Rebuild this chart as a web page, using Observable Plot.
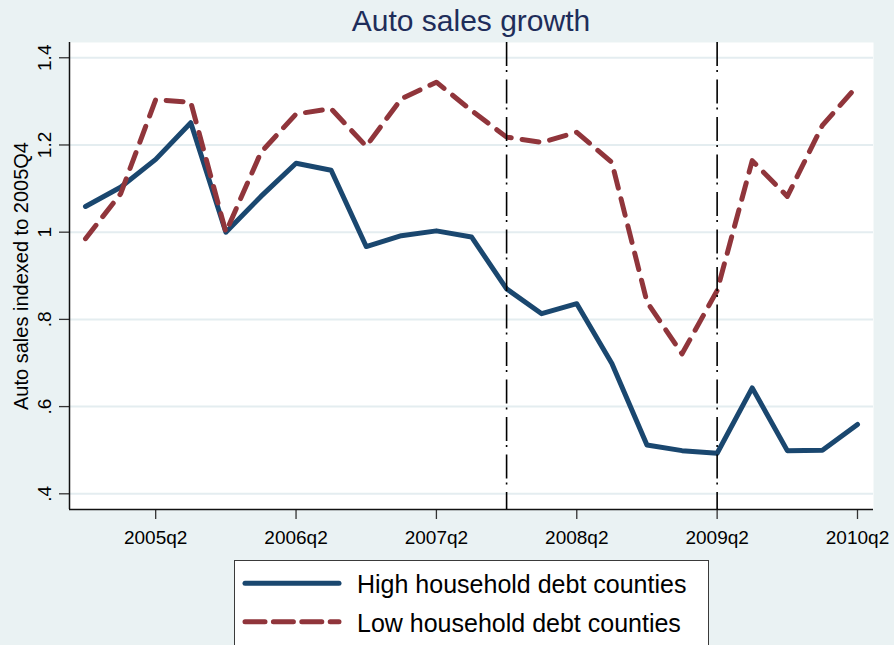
<!DOCTYPE html>
<html><head><meta charset="utf-8">
<script src="https://cdn.jsdelivr.net/npm/d3@7"></script>
<script src="https://cdn.jsdelivr.net/npm/@observablehq/plot@0.6"></script>
<style>
body{margin:0;background:#EAF2F3;font-family:"Liberation Sans",Arial,sans-serif;}
#wrap{position:relative;width:894px;height:645px;overflow:hidden;background:#EAF2F3;}
#title{position:absolute;left:69px;width:804px;top:6px;text-align:center;font-size:30px;line-height:30px;color:#1E2D5A;white-space:nowrap;}
#chart{position:absolute;left:0;top:42px;}
#legend{position:absolute;left:234px;top:560px;width:475px;height:100px;background:#fff;border:1px solid #3a3a3a;box-sizing:border-box;}
#legend svg{position:absolute;left:-1px;top:-1px;overflow:visible;}
</style>
</head><body>
<div id="wrap">
  <div id="title"></div>
  <div id="chart"></div>
  <div id="legend"></div>
</div>
<script>
const titleText = "Auto sales growth";
const yLabel = "Auto sales indexed to 2005Q4";
const quarters = ["2004q4","2005q1","2005q2","2005q3","2005q4","2006q1","2006q2","2006q3","2006q4",
  "2007q1","2007q2","2007q3","2007q4","2008q1","2008q2","2008q3","2008q4","2009q1","2009q2",
  "2009q3","2009q4","2010q1","2010q2"];
const highDebt = [1.059,1.103,1.167,1.251,1.000,1.082,1.158,1.142,0.967,0.992,1.003,0.989,0.870,
  0.813,0.836,0.699,0.512,0.499,0.493,0.643,0.499,0.500,0.559];
const lowDebt = [0.985,1.088,1.304,1.298,1.000,1.183,1.271,1.283,1.197,1.306,1.344,1.279,1.218,
  1.206,1.229,1.160,0.840,0.721,0.866,1.164,1.082,1.245,1.336];
const xTickLabels = ["2005q2","2006q2","2007q2","2008q2","2009q2","2010q2"];
const yTicks = [0.4,0.6,0.8,1,1.2,1.4];
const yTickLabels = [".4",".6",".8","1","1.2","1.4"];
const eventQuarters = ["2007q4","2009q2"];
const seriesNames = ["High household debt counties","Low household debt counties"];
const seriesColors = ["#1A476F","#90353B"];
const dashPattern = "17 11";

const qnum = s => +s.slice(0,4) + (+s.slice(5) - 1) / 4;
const rows = quarters.map((q, i) => ({x: qnum(q), high: highDebt[i], low: lowDebt[i]}));
const xTicks = xTickLabels.map(qnum);
const xLabelMap = new Map(xTicks.map((t, i) => [t, xTickLabels[i]]));
const xDomain = [qnum(quarters[0]) - 0.114, qnum(quarters[quarters.length - 1]) + 0.114];
const yDomain = [0.364, 1.435];

document.getElementById("title").textContent = titleText;

const chart = Plot.plot({
  width: 894, height: 508,
  marginLeft: 69, marginRight: 21, marginTop: 0, marginBottom: 41,
  style: {background: "transparent", fontFamily: "'Liberation Sans', Arial, sans-serif", overflow: "visible", color: "#000"},
  x: {domain: xDomain},
  y: {domain: yDomain},
  marks: [
    Plot.frame({fill: "white", stroke: null}),
    Plot.ruleY(yTicks, {stroke: "#E4EDF0", strokeWidth: 2}),
    Plot.axisY({ticks: yTicks, tickSize: 10, tickFormat: () => "", label: null, stroke: "#333", strokeWidth: 1.3}),
    Plot.text(yTicks, {y: d => d, text: (d, i) => yTickLabels[i], frameAnchor: "left", rotate: -90,
      textAnchor: "middle", lineAnchor: "bottom", dx: -19, fontSize: 19, fill: "#000"}),
    Plot.text([yLabel], {text: d => d, frameAnchor: "left", rotate: -90, textAnchor: "middle",
      lineAnchor: "bottom", dx: -42, fontSize: 20, fill: "#000"}),
    Plot.axisX({ticks: xTicks, tickFormat: d => xLabelMap.get(d), tickSize: 10, tickPadding: 11,
      fontSize: 19, label: null, stroke: "#333", strokeWidth: 1.3, fill: "#000"}),
    Plot.ruleX([xDomain[0]], {stroke: "#111", strokeWidth: 1.5}),
    Plot.ruleY([yDomain[0]], {stroke: "#111", strokeWidth: 1.5}),
    Plot.line(rows, {x: "x", y: "high", stroke: seriesColors[0], strokeWidth: 5,
      strokeLinecap: "round", strokeLinejoin: "round"}),
    Plot.line(rows, {x: "x", y: "low", stroke: seriesColors[1], strokeWidth: 5,
      strokeDasharray: dashPattern, strokeLinecap: "round", strokeLinejoin: "round"}),
    Plot.ruleX(eventQuarters.map(qnum), {stroke: "#000", strokeWidth: 1.6, strokeDasharray: "24 4 2 7.5"})
  ]
});
document.getElementById("chart").appendChild(chart);

// legend
const ns = "http://www.w3.org/2000/svg";
const lg = document.createElementNS(ns, "svg");
lg.setAttribute("width", 475); lg.setAttribute("height", 100);
const rowsY = [23.3, 61.7];
seriesNames.forEach((name, i) => {
  const ln = document.createElementNS(ns, "line");
  ln.setAttribute("x1", 11); ln.setAttribute("x2", 105);
  ln.setAttribute("y1", rowsY[i]); ln.setAttribute("y2", rowsY[i]);
  ln.setAttribute("stroke", seriesColors[i]); ln.setAttribute("stroke-width", 5);
  ln.setAttribute("stroke-linecap", "round");
  if (i === 1) ln.setAttribute("stroke-dasharray", "20 8.4");
  lg.appendChild(ln);
  const tx = document.createElementNS(ns, "text");
  tx.setAttribute("x", 123); tx.setAttribute("y", rowsY[i] + 10);
  tx.setAttribute("font-size", 25); tx.setAttribute("fill", "#000");
  tx.setAttribute("font-family", "'Liberation Sans', Arial, sans-serif");
  tx.textContent = name;
  lg.appendChild(tx);
});
document.getElementById("legend").appendChild(lg);
</script>
</body></html>
